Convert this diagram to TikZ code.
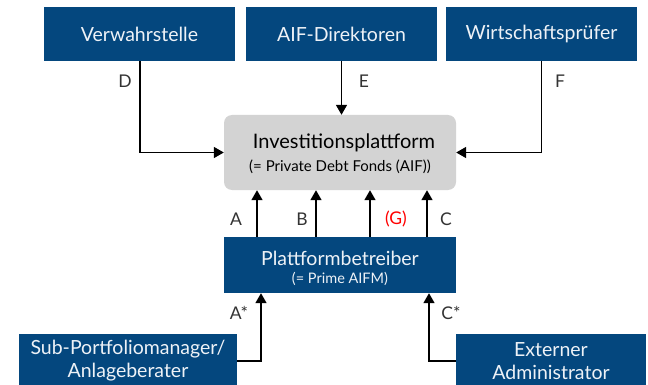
\documentclass[tikz,border=0pt]{standalone}
\usepackage{fontspec}
\setmainfont{Lato}
\usetikzlibrary{arrows.meta}
\definecolor{boxblue}{HTML}{04477E}
\definecolor{boxtext}{HTML}{EEF2F7}
\definecolor{boxgray}{HTML}{D3D3D3}
\tikzset{
  bluebox/.style={draw=none, fill=boxblue, text=boxtext, align=center, inner sep=0pt},
  graybox/.style={draw=none, fill=boxgray, rounded corners=8pt, align=center, inner sep=0pt},
  arr/.style={line width=1.6pt, -{Triangle[length=10pt,width=11pt]}},
  lbl/.style={font=\fontsize{17.5}{20}\selectfont, text=black!80, inner sep=0pt}
}
\begin{document}
\begin{tikzpicture}[x=1pt,y=-1pt]
\useasboundingbox (0,0) rectangle (648,385);
% top boxes
\node[bluebox, minimum width=191pt, minimum height=54pt, font=\fontsize{19.5}{22}\selectfont] (verw) at (139.5,34) {Verwahrstelle};
\node[bluebox, minimum width=191pt, minimum height=54pt, font=\fontsize{19.5}{22}\selectfont] (aif) at (341.5,34) {AIF-Direktoren};
\node[bluebox, minimum width=191pt, minimum height=54pt, font=\fontsize{19.5}{22}\selectfont] (wirt) at (541.5,34) {Wirtschaftsprüfer};
% platform
\node[graybox, minimum width=232pt, minimum height=75pt] (inv) at (340,152.5) {};
\node[font=\fontsize{20}{22}\selectfont, inner sep=0pt] (invt) at (344,143) {Investitionsplattform};
\node[font=\fontsize{15}{17}\selectfont, inner sep=0pt] (invs) at (340,167) {(= Private Debt Fonds (AIF))};
% operator
\node[bluebox, minimum width=232pt, minimum height=56pt] (plat) at (340,265) {};
\node[text=boxtext, font=\fontsize{19.5}{22}\selectfont, inner sep=0pt] (platt) at (340,258) {Plattformbetreiber};
\node[text=boxtext, font=\fontsize{14.5}{17}\selectfont, inner sep=0pt] (plats) at (340,279) {(= Prime AIFM)};
% bottom boxes
\node[bluebox, minimum width=218pt, minimum height=54pt, font=\fontsize{19.5}{23}\selectfont] (sub) at (128,361) {Sub-Portfoliomanager/\\Anlageberater};
\node[bluebox, minimum width=190pt, minimum height=54pt, font=\fontsize{19.5}{23}\selectfont] (ext) at (551,361) {Externer\\Administrator};
% connectors top
\draw[arr] ([xshift=0.5pt]verw.south) |- (inv.west);
\draw[arr] (aif.south) -- (aif.south |- inv.north);
\draw[arr] (wirt.south) |- (inv.east);
\node[lbl] (lD) at (125,81) {D};
\node[lbl] (lE) at (364,81) {E};
\node[lbl] (lF) at (560,81) {F};
% connectors middle
\coordinate (pa) at ([xshift=-83pt]plat.north);
\coordinate (pb) at ([xshift=-24pt]plat.north);
\coordinate (pg) at ([xshift=30pt]plat.north);
\coordinate (pc) at ([xshift=87pt]plat.north);
\draw[arr] (pa) -- (pa |- inv.south);
\draw[arr] (pb) -- (pb |- inv.south);
\draw[arr] (pg) -- (pg |- inv.south);
\draw[arr] (pc) -- (pc |- inv.south);
\node[lbl] (lA) at (236,219) {A};
\node[lbl] (lB) at (302,219) {B};
\node[lbl, text=red] (lG) at (396,219) {(G)};
\node[lbl] (lC) at (446,219) {C};
% connectors bottom
\coordinate (pas) at ([xshift=-79pt]plat.south);
\coordinate (pcs) at ([xshift=89pt]plat.south);
\draw[arr] (sub.east) -| (pas);
\draw[arr] (ext.west) -| (pcs);
\node[lbl] (lAs) at (239,313) {A*};
\node[lbl] (lCs) at (451,313) {C*};
\end{tikzpicture}
\end{document}
